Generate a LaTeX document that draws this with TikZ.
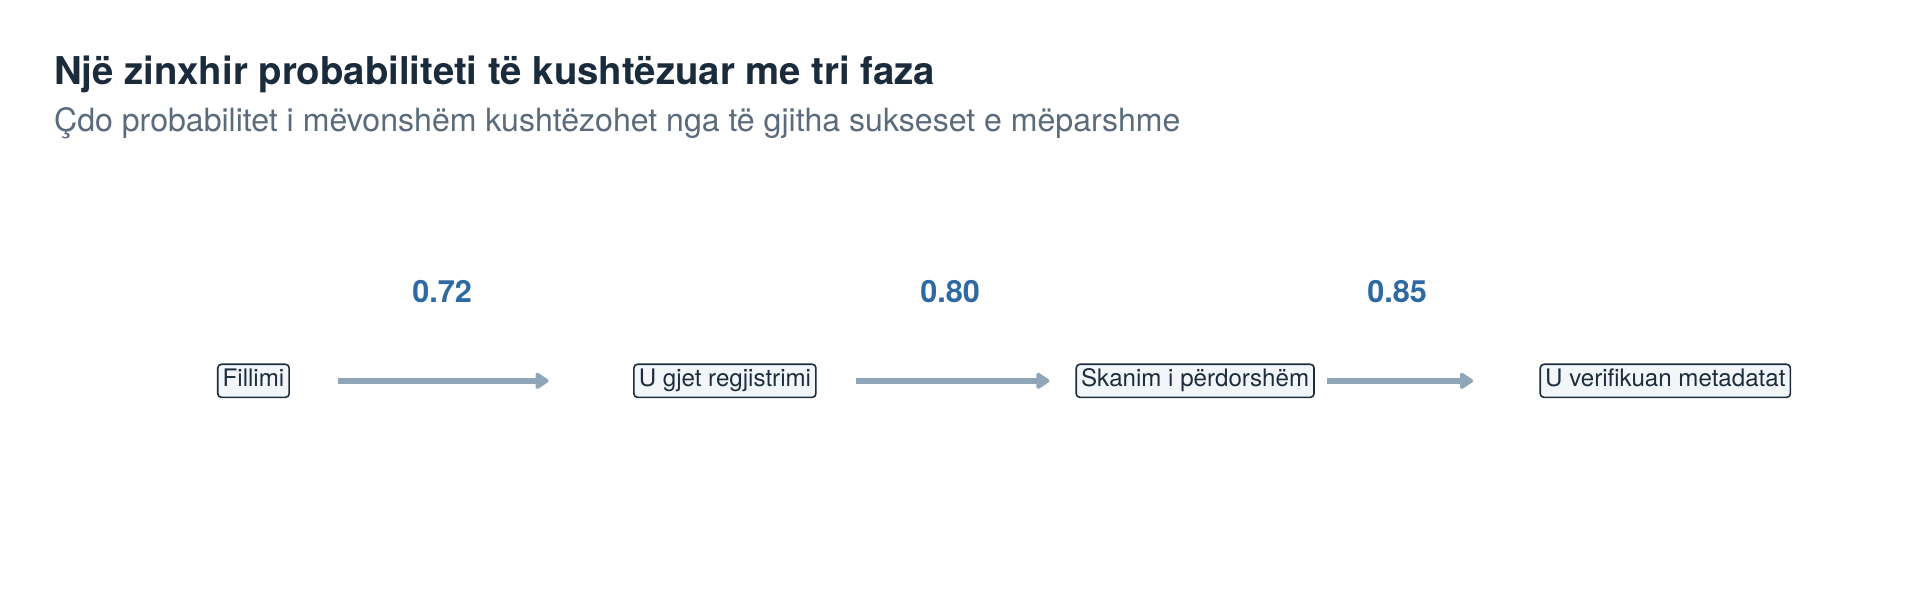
\documentclass[tikz,border=0pt]{standalone}
\usepackage{fontspec}
\setmainfont{TeX Gyre Heros}
\usetikzlibrary{arrows.meta,calc}
\definecolor{titlec}{HTML}{1A2B3C}
\definecolor{subc}{HTML}{5B6B7B}
\definecolor{probc}{HTML}{2D6AA3}
\definecolor{arrc}{HTML}{8FA5B8}
\definecolor{boxd}{HTML}{1E2D3D}
\definecolor{boxf}{HTML}{F3F6F9}
\begin{document}
\begin{tikzpicture}[x=1pt,y=-1pt,
  stagebox/.style={draw=boxd, fill=boxf, line width=1.3pt, rounded corners=3pt,
    inner xsep=4pt, inner ysep=0pt, minimum height=27pt, text=boxd,
    font=\fontsize{19.7}{23}\selectfont, text height=14pt, text depth=4pt},
  arr/.style={draw=arrc, line width=5pt, -{Triangle[length=12pt,width=15pt,round]}},
  prob/.style={text=probc, font=\fontsize{25}{30}\selectfont\bfseries, anchor=base},
  ttl/.style={anchor=base west, text=titlec, font=\fontsize{31.3}{37}\selectfont\bfseries, inner sep=0pt},
  subt/.style={anchor=base west, text=subc, font=\fontsize{26.2}{31}\selectfont, inner sep=0pt}]
\useasboundingbox (0,0) rectangle (1568,501.4);
\node[ttl] (title) at (44,69) {Një zinxhir probabiliteti të kushtëzuar me tri faza};
\node[subt] (subtitle) at (44,107) {Çdo probabilitet i mëvonshëm kushtëzohet nga të gjitha sukseset e mëparshme};
\node[stagebox] (s0) at (207,311) {Fillimi};
\node[stagebox] (s1) at (592,311) {U gjet regjistrimi};
\node[stagebox] (s2) at (976,311) {Skanim i përdorshëm};
\node[stagebox] (s3) at (1360,311) {U verifikuan metadatat};
\draw[arr] ([xshift=69pt]s0.center) -- ([xshift=-144pt]s1.center);
\draw[arr] ([xshift=107pt]s1.center) -- ([xshift=-119pt]s2.center);
\draw[arr] ([xshift=108pt]s2.center) -- ([xshift=-157pt]s3.center);
\node[prob] (p1) at (361,247) {0.72};
\node[prob] (p2) at (776,247) {0.80};
\node[prob] (p3) at (1141,247) {0.85};
\end{tikzpicture}
\end{document}
